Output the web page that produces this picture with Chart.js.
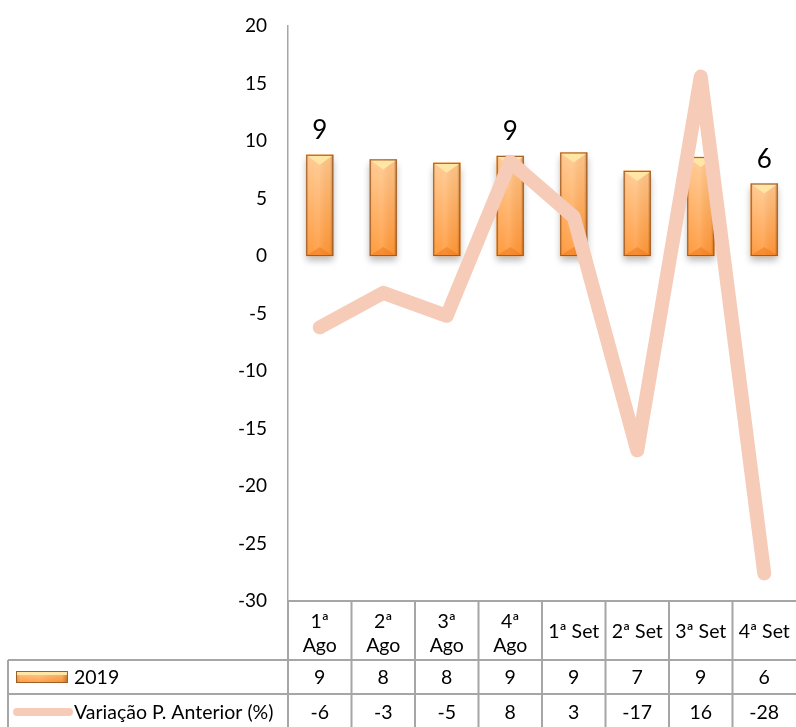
<!DOCTYPE html>
<html>
<head>
<meta charset="utf-8">
<script src="https://cdn.jsdelivr.net/npm/chart.js@4.4.0/dist/chart.umd.min.js"></script>
<style>
    html, body { margin: 0; padding: 0; background: #fff; }
</style>
</head>
<body>
<canvas id="chart" width="796" height="727"></canvas>
<script>
// weeks (wrapped the same way as the table header)
const categories = [
    ["1ª", "Ago"], ["2ª", "Ago"], ["3ª", "Ago"], ["4ª", "Ago"],
    "1ª Set", "2ª Set", "3ª Set", "4ª Set",
];
const values2019 = [8.8, 8.4, 8.1, 8.7, 9.0, 7.4, 8.6, 6.3];
const variacao = [-6.2, -3.2, -5.2, 8.2, 3.4, -16.9, 15.6, -27.6];
const labelledBars = [0, 3, 7];
const seriesNames = ["2019", "Variação P. Anterior (%)"];
const yTicks = { min: -30, max: 20, step: 5 };

const FONT = "Lato, 'Open Sans', sans-serif";
const LINE_COLOR = "#F6CBB8";
const GRID_COLOR = "#a6a6a6";

function barFill(ctx, left, top, w, h) {
    const v = ctx.createLinearGradient(0, top, 0, top + h);
    v.addColorStop(0, "#FFC88E");
    v.addColorStop(1, "#FF9636");
    ctx.fillStyle = v;
    ctx.fillRect(left, top, w, h);
    const hz = ctx.createLinearGradient(left, 0, left + w, 0);
    hz.addColorStop(0, "rgba(140,70,10,0.30)");
    hz.addColorStop(0.12, "rgba(255,255,255,0.05)");
    hz.addColorStop(0.45, "rgba(255,255,255,0.12)");
    hz.addColorStop(0.88, "rgba(140,70,10,0.05)");
    hz.addColorStop(1, "rgba(110,50,0,0.45)");
    ctx.fillStyle = hz;
    ctx.fillRect(left, top, w, h);
}

const bevelPlugin = {
    id: "bevel",
    beforeDatasetDraw(chart, args) {
        if (args.index !== 0) return;
        const ctx = chart.ctx;
        ctx.save();
        ctx.shadowColor = "rgba(0,0,0,0.28)";
        ctx.shadowBlur = 7;
        ctx.shadowOffsetY = 5;
    },
    afterDatasetDraw(chart, args) {
        if (args.index !== 0) return;
        const ctx = chart.ctx;
        ctx.restore();
        ctx.save();
        args.meta.data.forEach((bar) => {
            const { x, y, base, width } = bar.getProps(["x", "y", "base", "width"], true);
            const left = x - width / 2;
            const h = base - y;
            barFill(ctx, left, y, width, h);
            // top bevel
            ctx.fillStyle = "#FFE6A4";
            ctx.beginPath();
            ctx.moveTo(left + 1, y + 1);
            ctx.lineTo(left + width - 1, y + 1);
            ctx.lineTo(x, y + 10);
            ctx.closePath();
            ctx.fill();
            // bottom bevel
            ctx.fillStyle = "rgba(235,115,20,0.45)";
            ctx.beginPath();
            ctx.moveTo(left + 1, base - 1);
            ctx.lineTo(left + width - 1, base - 1);
            ctx.lineTo(x, base - 9);
            ctx.closePath();
            ctx.fill();
            ctx.strokeStyle = "#A05E26";
            ctx.lineWidth = 1;
            ctx.strokeRect(left + 0.5, y + 0.5, width - 1, h - 1);
        });
        ctx.restore();
    },
};

const labelPlugin = {
    id: "barLabels",
    afterDatasetsDraw(chart) {
        const ctx = chart.ctx;
        const meta = chart.getDatasetMeta(0);
        ctx.save();
        ctx.font = `26px ${FONT}`;
        ctx.fillStyle = "#000";
        ctx.textAlign = "center";
        ctx.textBaseline = "middle";
        labelledBars.forEach((i) => {
            const bar = meta.data[i];
            ctx.fillText(String(Math.round(values2019[i])), bar.x, bar.y - 24);
        });
        ctx.restore();
    },
};

const tablePlugin = {
    id: "dataTable",
    afterDraw(chart) {
        const ctx = chart.ctx;
        const xs = chart.scales.x;
        const area = chart.chartArea;
        const colW = xs.getPixelForValue(1) - xs.getPixelForValue(0);
        const n = categories.length;
        const edges = [];
        for (let i = 0; i <= n; i++) edges.push(xs.getPixelForValue(i) - colW / 2);
        const top = area.bottom;
        const r1 = top + 59;
        const r2 = r1 + 34;
        const r3 = r2 + 34;
        const tableLeft = 8;

        ctx.save();
        ctx.strokeStyle = GRID_COLOR;
        ctx.lineWidth = 2;
        ctx.beginPath();
        ctx.moveTo(edges[0], top);
        ctx.lineTo(edges[n], top);
        [r1, r2].forEach((yy) => {
            ctx.moveTo(tableLeft, yy);
            ctx.lineTo(edges[n], yy);
        });
        ctx.moveTo(tableLeft, r1);
        ctx.lineTo(tableLeft, r3);
        for (let i = 0; i < n; i++) {
            ctx.moveTo(edges[i], top);
            ctx.lineTo(edges[i], r3);
        }
        ctx.stroke();

        ctx.font = `19.5px ${FONT}`;
        ctx.fillStyle = "#000";
        ctx.textAlign = "center";
        ctx.textBaseline = "middle";
        const headMid = (top + r1) / 2 + 1;
        categories.forEach((c, i) => {
            const cx = xs.getPixelForValue(i);
            if (Array.isArray(c)) {
                ctx.fillText(c[0], cx, headMid - 10);
                ctx.fillText(c[1], cx, headMid + 14);
            } else {
                ctx.fillText(c, cx, headMid);
            }
            ctx.fillText(String(Math.round(values2019[i])), cx, (r1 + r2) / 2 + 1);
            ctx.fillText(String(Math.round(variacao[i])), cx, (r2 + r3) / 2 + 2);
        });

        // legend keys
        const k1 = (r1 + r2) / 2;
        ctx.save();
        barFill(ctx, 16, k1 - 6, 52, 12);
        ctx.fillStyle = "#FFE6A4";
        ctx.fillRect(17, k1 - 5, 50, 3);
        ctx.strokeStyle = "#A05E26";
        ctx.lineWidth = 1;
        ctx.strokeRect(16.5, k1 - 5.5, 51, 11);
        ctx.restore();
        const k2 = (r2 + r3) / 2 + 1;
        ctx.strokeStyle = LINE_COLOR;
        ctx.lineWidth = 8;
        ctx.lineCap = "round";
        ctx.beginPath();
        ctx.moveTo(17, k2);
        ctx.lineTo(69, k2);
        ctx.stroke();

        ctx.textAlign = "left";
        ctx.fillText(seriesNames[0], 74, k1 + 1);
        ctx.fillText(seriesNames[1], 74, (r2 + r3) / 2 + 2);
        ctx.restore();
    },
};

new Chart(document.getElementById("chart"), {
    data: {
        labels: categories,
        datasets: [
            {
                type: "bar",
                label: seriesNames[0],
                data: values2019,
                order: 1,
                backgroundColor: "#FFA54F",
                borderWidth: 0,
                barThickness: 27,
            },
            {
                type: "line",
                label: seriesNames[1],
                data: variacao,
                order: 0,
                borderColor: LINE_COLOR,
                borderWidth: 14,
                borderCapStyle: "round",
                borderJoinStyle: "round",
                pointRadius: 0,
                tension: 0,
            },
        ],
    },
    options: {
        responsive: false,
        animation: false,
        devicePixelRatio: 1,
        layout: { padding: { top: 26, bottom: 126, left: 0, right: 0 } },
        plugins: { legend: { display: false }, tooltip: { enabled: false } },
        scales: {
            x: { type: "category", display: false, offset: true },
            y: {
                min: yTicks.min,
                max: yTicks.max,
                ticks: {
                    stepSize: yTicks.step,
                    padding: 21,
                    color: "#000",
                    font: { family: FONT, size: 19 },
                },
                grid: { display: false, drawTicks: false },
                border: { display: true, color: GRID_COLOR, width: 1.5 },
                afterFit(scale) {
                    scale.width = 288;
                    scale.paddingTop = 0;
                    scale.paddingBottom = 0;
                },
            },
        },
    },
    plugins: [bevelPlugin, labelPlugin, tablePlugin],
});
</script>
</body>
</html>
